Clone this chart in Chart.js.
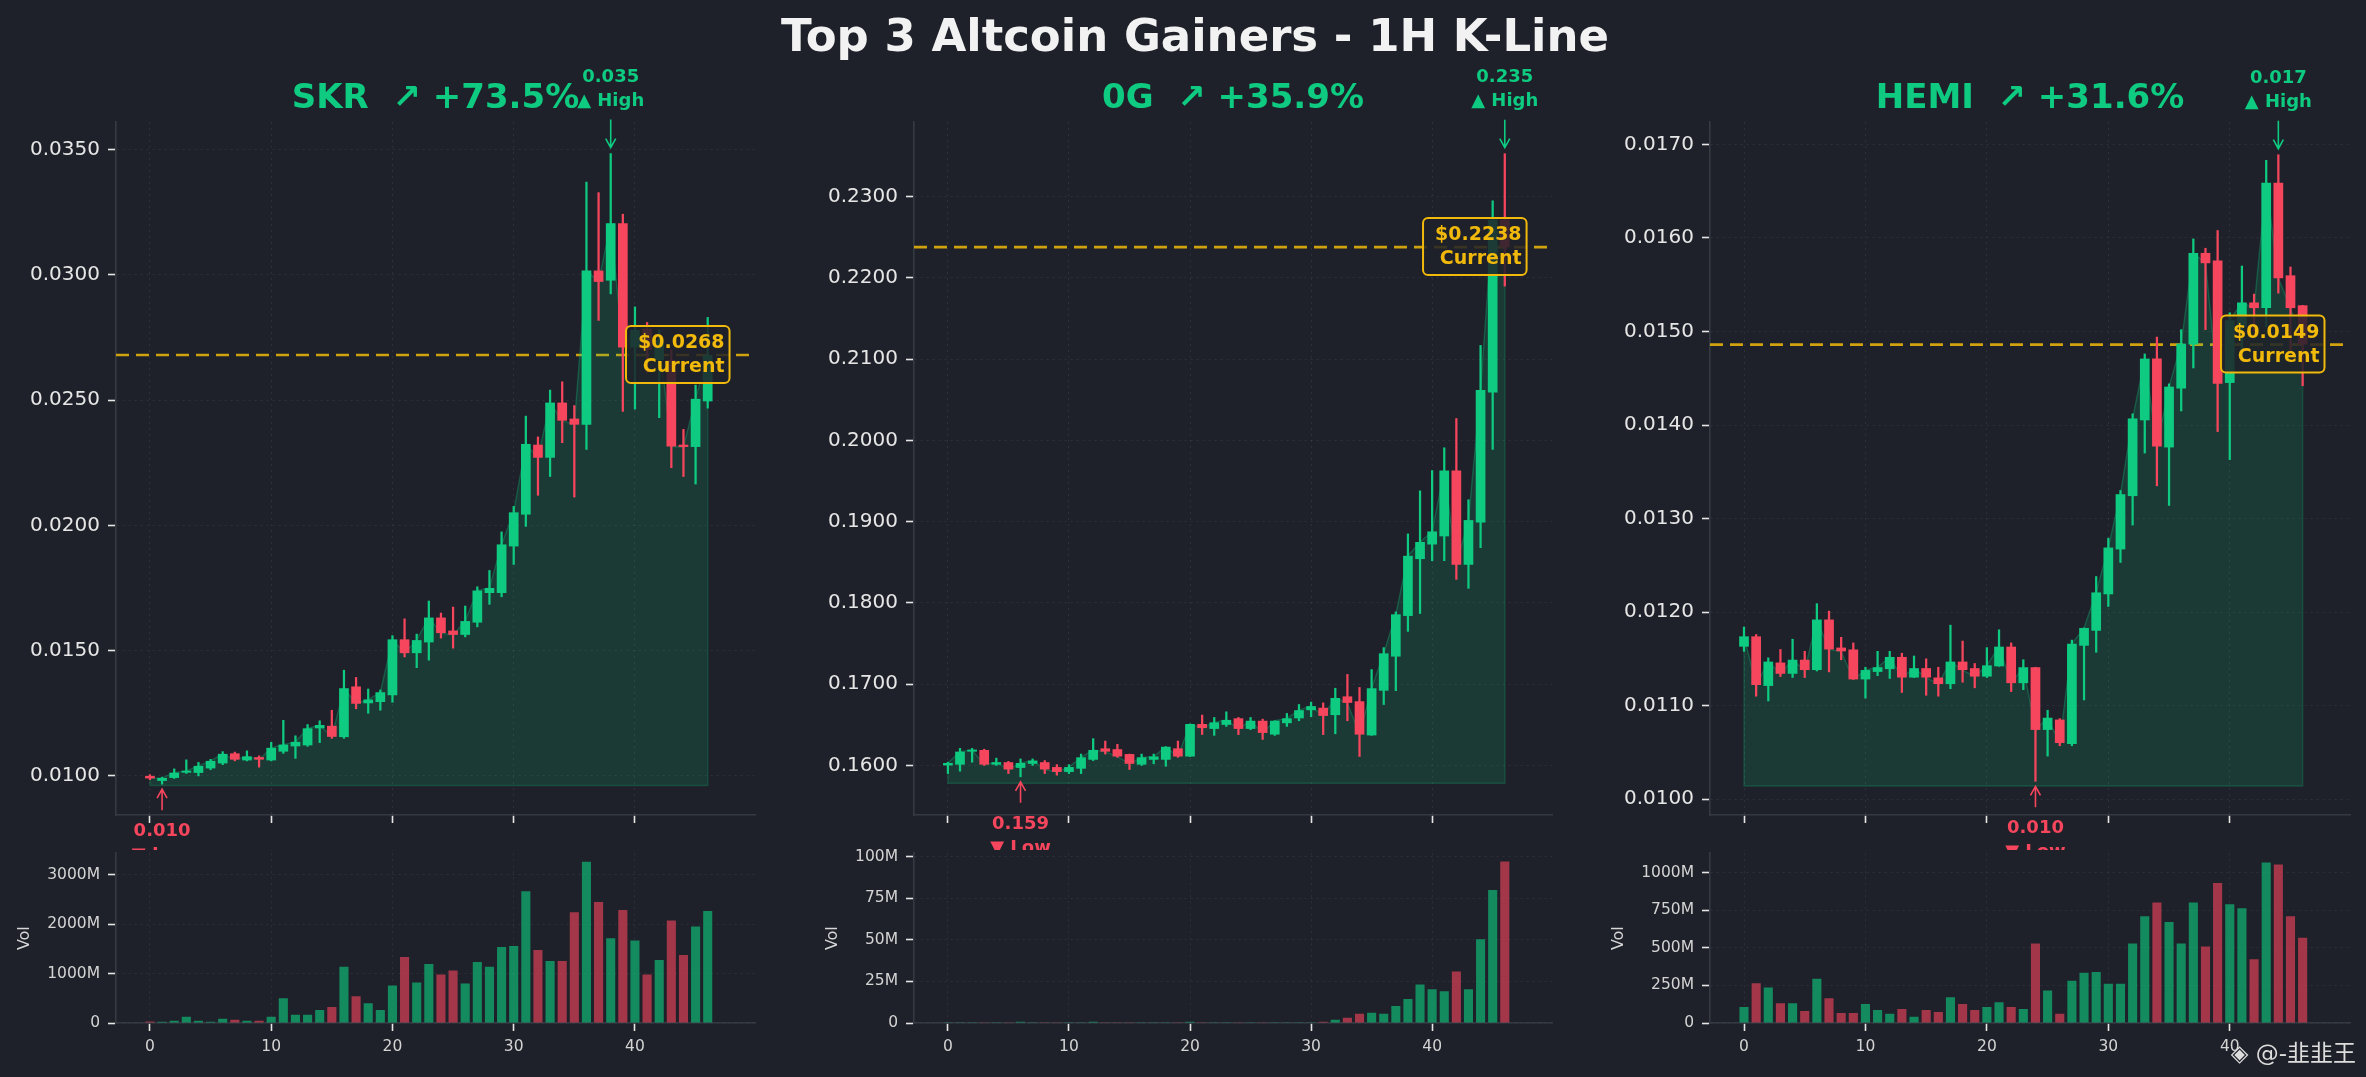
<!DOCTYPE html>
<html>
<head>
<meta charset="utf-8">
<script src="https://cdn.jsdelivr.net/npm/chart.js@4.4.0/dist/chart.umd.min.js"></script>
<style>
html, body { margin: 0; padding: 0; background: #1e2129; width: 2366px; height: 1077px; overflow: hidden; }
canvas { position: absolute; }
#title { position: absolute; left: 0; width: 2390px; top: 12px; text-align: center;
  font: bold 45px "DejaVu Sans"; line-height: 48px; color: #f2f2f2; z-index: 5; }
#mark { position: absolute; right: 10px; top: 1034px; font: 23px "DejaVu Sans", "Noto Sans CJK SC";
  color: #dddddd; z-index: 5; }
</style>
</head>
<body>
<div id="title">Top 3 Altcoin Gainers - 1H K-Line</div>
<div id="mark">◈ @-韭韭王</div>
<script>
// coins and their 24h gain (%)
var names = ['SKR', '0G', 'HEMI'];
var gains = [73.5, 35.9, 31.6];

// SKR 1H candles
var skrOpen = [0.01000,0.00980,0.00992,0.01013,0.01012,0.01030,0.01050,0.01090,0.01062,0.01075,
  0.01062,0.01097,0.01118,0.01122,0.01190,0.01200,0.01155,0.01357,0.01290,0.01295,
  0.01322,0.01545,0.01490,0.01533,0.01632,0.01580,0.01563,0.01612,0.01730,0.01730,
  0.01916,0.02043,0.02322,0.02270,0.02490,0.02426,0.02402,0.03017,0.02977,0.03206,
  0.02710,0.02785,0.02660,0.02660,0.02322,0.02313,0.02495];
var skrHigh = [0.01005,0.00995,0.01028,0.01064,0.01054,0.01066,0.01097,0.01095,0.01100,0.01080,
  0.01134,0.01222,0.01160,0.01205,0.01220,0.01262,0.01422,0.01393,0.01347,0.01343,
  0.01560,0.01627,0.01566,0.01698,0.01650,0.01674,0.01678,0.01755,0.01820,0.01974,
  0.02076,0.02436,0.02353,0.02540,0.02573,0.02478,0.03370,0.03328,0.03484,0.03242,
  0.02872,0.02810,0.02780,0.02700,0.02383,0.02560,0.02830];
var skrLow = [0.00985,0.00967,0.00990,0.01010,0.01000,0.01025,0.01045,0.01060,0.01060,0.01035,
  0.01060,0.01090,0.01070,0.01118,0.01133,0.01150,0.01150,0.01268,0.01250,0.01262,
  0.01294,0.01475,0.01432,0.01462,0.01550,0.01510,0.01555,0.01595,0.01685,0.01715,
  0.01844,0.01996,0.02120,0.02195,0.02330,0.02113,0.02303,0.02818,0.02924,0.02455,
  0.02464,0.02610,0.02430,0.02230,0.02195,0.02165,0.02468];
var skrClose = [0.00990,0.00992,0.01013,0.01020,0.01040,0.01060,0.01088,0.01065,0.01078,0.01065,
  0.01112,0.01125,0.01136,0.01190,0.01203,0.01156,0.01350,0.01288,0.01305,0.01334,
  0.01545,0.01490,0.01542,0.01632,0.01570,0.01563,0.01618,0.01740,0.01750,0.01924,
  0.02052,0.02325,0.02270,0.02490,0.02418,0.02402,0.03017,0.02972,0.03206,0.02710,
  0.02780,0.02700,0.02740,0.02315,0.02313,0.02505,0.02680];
var skrVol = [30,25,45,125,45,25,85,65,45,45,125,500,165,165,265,325,1135,540,400,265,
  760,1335,820,1195,980,1060,800,1235,1135,1535,1555,2665,1475,1255,1255,2240,3260,2445,
  1715,2285,1670,980,1275,2070,1375,1950,2265];

// 0G 1H candles
var ogOpen = [0.1600,0.1601,0.1617,0.1619,0.1601,0.1604,0.1597,0.1602,0.1604,0.1598,
  0.1592,0.1596,0.1607,0.1621,0.1620,0.1614,0.1601,0.1607,0.1607,0.1621,
  0.1611,0.1651,0.1645,0.1650,0.1658,0.1645,0.1655,0.1638,0.1652,0.1658,
  0.1668,0.1671,0.1662,0.1685,0.1679,0.1637,0.1692,0.1734,0.1784,0.1854,
  0.1872,0.1882,0.1963,0.1847,0.1899,0.2059,0.2272];
var ogHigh = [0.1604,0.1621,0.1621,0.1620,0.1609,0.1605,0.1608,0.1608,0.1606,0.1601,
  0.1601,0.1614,0.1633,0.1630,0.1626,0.1614,0.1614,0.1614,0.1623,0.1630,
  0.1651,0.1662,0.1659,0.1666,0.1659,0.1659,0.1657,0.1655,0.1664,0.1675,
  0.1678,0.1677,0.1695,0.1712,0.1696,0.1718,0.1745,0.1789,0.1885,0.1938,
  0.1963,0.1991,0.2027,0.1927,0.2117,0.2295,0.2353];
var ogLow = [0.1590,0.1593,0.1604,0.1600,0.1600,0.1590,0.1586,0.1600,0.1590,0.1588,
  0.1590,0.1590,0.1606,0.1614,0.1610,0.1595,0.1600,0.1602,0.1599,0.1610,
  0.1611,0.1638,0.1637,0.1648,0.1638,0.1644,0.1632,0.1637,0.1648,0.1655,
  0.1660,0.1638,0.1639,0.1655,0.1611,0.1637,0.1675,0.1692,0.1765,0.1787,
  0.1852,0.1852,0.1829,0.1818,0.1868,0.1989,0.2190];
var ogClose = [0.1603,0.1617,0.1619,0.1601,0.1604,0.1595,0.1603,0.1606,0.1595,0.1592,
  0.1598,0.1610,0.1619,0.1617,0.1611,0.1602,0.1610,0.1611,0.1623,0.1611,
  0.1651,0.1646,0.1653,0.1656,0.1645,0.1655,0.1640,0.1655,0.1658,0.1668,
  0.1673,0.1661,0.1683,0.1677,0.1638,0.1695,0.1738,0.1786,0.1858,0.1875,
  0.1888,0.1963,0.1847,0.1902,0.2062,0.2272,0.2238];
var ogVol = [0.1,0.1,0.1,0.1,0.1,0.1,0.7,0.1,0.1,0.1,0.1,0.1,0.7,0.1,0.1,0.1,0.1,0.1,0.1,0.1,
  0.8,0.1,0.1,0.1,0.1,0.1,0.1,0.1,0.1,0.1,0.2,0.8,2.0,3.2,5.5,6.1,5.5,10.2,14.4,23.2,
  20.3,19.1,30.9,20.3,50.4,80.0,97.0];

// HEMI 1H candles
var hemiOpen = [0.01163,0.01174,0.01121,0.01146,0.01134,0.01149,0.01138,0.01192,0.01162,0.01160,
  0.01128,0.01136,0.01139,0.01152,0.01130,0.01140,0.01130,0.01123,0.01147,0.01140,
  0.01131,0.01142,0.01163,0.01124,0.01141,0.01074,0.01085,0.01059,0.01164,0.01180,
  0.01219,0.01267,0.01324,0.01405,0.01471,0.01376,0.01439,0.01486,0.01584,0.01576,
  0.01445,0.01505,0.01531,0.01525,0.01659,0.01560,0.01528];
var hemiHigh = [0.01184,0.01176,0.01151,0.01160,0.01171,0.01158,0.01209,0.01201,0.01173,0.01167,
  0.01141,0.01158,0.01158,0.01156,0.01153,0.01150,0.01141,0.01186,0.01169,0.01145,
  0.01162,0.01181,0.01167,0.01149,0.01141,0.01095,0.01086,0.01170,0.01183,0.01238,
  0.01279,0.01330,0.01412,0.01476,0.01494,0.01444,0.01502,0.01599,0.01589,0.01608,
  0.01520,0.01570,0.01540,0.01683,0.01689,0.01569,0.01528];
var hemiLow = [0.01158,0.01110,0.01105,0.01131,0.01130,0.01130,0.01137,0.01136,0.01149,0.01128,
  0.01108,0.01132,0.01129,0.01114,0.01130,0.01111,0.01110,0.01118,0.01125,0.01119,
  0.01130,0.01142,0.01115,0.01117,0.01019,0.01046,0.01057,0.01057,0.01106,0.01157,
  0.01206,0.01253,0.01293,0.01370,0.01335,0.01314,0.01415,0.01461,0.01502,0.01393,
  0.01363,0.01480,0.01500,0.01505,0.01541,0.01480,0.01442];
var hemiClose = [0.01174,0.01122,0.01147,0.01134,0.01149,0.01138,0.01192,0.01160,0.01158,0.01128,
  0.01138,0.01141,0.01152,0.01130,0.01140,0.01130,0.01123,0.01147,0.01138,0.01131,
  0.01143,0.01163,0.01124,0.01141,0.01074,0.01087,0.01060,0.01166,0.01183,0.01221,
  0.01269,0.01326,0.01407,0.01471,0.01377,0.01441,0.01487,0.01584,0.01573,0.01444,
  0.01512,0.01531,0.01525,0.01659,0.01557,0.01525,0.01486];
var hemiVol = [106,265,236,132,132,80,295,165,67,67,126,87,61,93,41,87,74,171,126,87,
  106,139,106,93,529,217,61,282,334,340,262,262,529,711,803,672,529,803,510,933,
  790,764,425,1069,1056,711,568];

// axis ranges
var priceMin = [0.00844, 0.1539, 0.00983];
var priceMax = [0.0361, 0.2392, 0.01724];
var priceStep = [0.005, 0.01, 0.001];
var volMax = [3430, 102, 1130];
var volStep = [1000, 25, 250];
var xMin = -2.8, xMax = 49.9, xStep = 10;

var UP = '#0ecb81', DOWN = '#f6465d', GOLD = '#f0b90b';
var SPINE = '#353a42', GRID = 'rgba(255,255,255,0.07)';

Chart.defaults.font.family = '"DejaVu Sans"';

// where each panel sits on the page
var panels = [
  {left: 0, width: 800, axisW: 116, padR: 45},
  {left: 800, width: 800, axisW: 114, padR: 48},
  {left: 1600, width: 766, axisW: 110, padR: 16}
];

var series = [
  {o: skrOpen, h: skrHigh, l: skrLow, c: skrClose, v: skrVol},
  {o: ogOpen, h: ogHigh, l: ogLow, c: ogClose, v: ogVol},
  {o: hemiOpen, h: hemiHigh, l: hemiLow, c: hemiClose, v: hemiVol}
];

function makeCanvas(left, top, w, h) {
  var cv = document.createElement('canvas');
  cv.width = w; cv.height = h;
  cv.style.left = left + 'px'; cv.style.top = top + 'px';
  cv.style.width = w + 'px'; cv.style.height = h + 'px';
  document.body.appendChild(cv);
  return cv;
}

function arrow(ctx, x, y0, y1, color) {
  var d = y1 > y0 ? 1 : -1;
  ctx.save();
  ctx.strokeStyle = color;
  ctx.lineWidth = 1.6;
  ctx.beginPath();
  ctx.moveTo(x, y0); ctx.lineTo(x, y1);
  ctx.moveTo(x - 5, y1 - d * 9); ctx.lineTo(x, y1); ctx.lineTo(x + 5, y1 - d * 9);
  ctx.stroke();
  ctx.restore();
}

// current price line, titles, high/low marks, current box
var notes = {
  id: 'notes',
  beforeDatasetsDraw: function(chart, args, o) {
    var ctx = chart.ctx, a = chart.chartArea;
    var py = chart.scales.y.getPixelForValue(o.current);
    ctx.save();
    ctx.strokeStyle = 'rgba(240,185,11,0.85)';
    ctx.lineWidth = 2.6;
    ctx.setLineDash([13, 7]);
    ctx.beginPath(); ctx.moveTo(a.left, py); ctx.lineTo(a.right, py); ctx.stroke();
    ctx.restore();
  },
  afterDraw: function(chart, args, o) {
    var ctx = chart.ctx, a = chart.chartArea, x = chart.scales.x, y = chart.scales.y;
    ctx.save();
    ctx.textAlign = 'center';
    ctx.textBaseline = 'alphabetic';
    ctx.fillStyle = UP;
    ctx.font = 'bold 34px "DejaVu Sans"';
    ctx.fillText(o.title, (a.left + a.right) / 2, a.top - 14);

    var hx = x.getPixelForValue(o.hiIdx), hy = y.getPixelForValue(o.hi);
    ctx.font = 'bold 18px "DejaVu Sans"';
    ctx.fillText(o.hi.toFixed(3), hx, hy - 72);
    ctx.fillText('▲ High', hx, hy - 48);
    arrow(ctx, hx, hy - 34, hy - 6, UP);

    var lx = x.getPixelForValue(o.loIdx), ly = y.getPixelForValue(o.lo);
    ctx.fillStyle = DOWN;
    ctx.fillText(o.lo.toFixed(3), lx, ly + 52);
    ctx.fillText('▼ Low', lx, ly + 76);
    arrow(ctx, lx, ly + 26, ly + 5, DOWN);

    var cy = y.getPixelForValue(o.current);
    var l1 = '$' + o.current.toFixed(4), l2 = 'Current';
    ctx.font = 'bold 19px "DejaVu Sans"';
    var w = Math.max(ctx.measureText(l1).width, ctx.measureText(l2).width);
    var right = x.getPixelForValue(o.n + 0.8);
    var tr = right - 5, left = tr - w - 12;
    ctx.beginPath();
    ctx.roundRect(left, cy - 29, right - left, 57, 5);
    ctx.fillStyle = 'rgba(30,33,41,0.85)';
    ctx.fill();
    ctx.lineWidth = 2;
    ctx.strokeStyle = GOLD;
    ctx.stroke();
    ctx.fillStyle = GOLD;
    ctx.textAlign = 'right';
    ctx.fillText(l1, tr, cy - 7);
    ctx.fillText(l2, tr, cy + 17);
    ctx.restore();
  }
};

var volLabel = {
  id: 'volLabel',
  afterDraw: function(chart) {
    var ctx = chart.ctx, a = chart.chartArea, y = chart.scales.y;
    ctx.save();
    ctx.font = '15.5px "DejaVu Sans"';
    var w = Math.max.apply(null, y.ticks.map(function(t) { return ctx.measureText(String(t.label)).width; }));
    ctx.font = '16px "DejaVu Sans"';
    ctx.fillStyle = '#d6d6d6';
    ctx.translate(a.left - 16 - w - 22, (a.top + a.bottom) / 2);
    ctx.rotate(-Math.PI / 2);
    ctx.textAlign = 'center';
    ctx.textBaseline = 'middle';
    ctx.fillText('Vol', 0, 0);
    ctx.restore();
  }
};

function axisX(showLabels, h) {
  return {
    type: 'linear', min: xMin, max: xMax, offset: false,
    grid: {offset: false, color: GRID, lineWidth: 1, tickLength: 8, tickColor: '#e6e6e6', tickWidth: 1.6},
    border: {color: SPINE, width: 1.6, dash: [2, 4]},
    ticks: {display: showLabels, stepSize: xStep, includeBounds: false, color: '#d4d4d4',
      font: {size: 15.5}, padding: 7, maxRotation: 0},
    afterFit: function(s) { s.height = h; }
  };
}

function drawPanel(k) {
  var p = panels[k], s = series[k];
  var n = s.c.length;
  var idx = s.c.map(function(_, i) { return i; });
  var up = idx.map(function(i) { return s.c[i] >= s.o[i]; });
  var col = up.map(function(u) { return u ? UP : DOWN; });
  var volCol = up.map(function(u) { return u ? 'rgba(14,203,129,0.62)' : 'rgba(246,70,93,0.62)'; });
  var hi = Math.max.apply(null, s.h), lo = Math.min.apply(null, s.l);
  var base = lo * 0.995;

  new Chart(makeCanvas(p.left, 0, p.width, 850), {
    type: 'bar',
    data: {
      datasets: [
        {type: 'line', data: idx.map(function(i) { return {x: i, y: s.c[i]}; }),
          borderColor: 'rgba(14,203,129,0.3)', borderWidth: 1.4, pointRadius: 0, tension: 0,
          fill: {value: base}, backgroundColor: 'rgba(14,203,129,0.15)', order: 4},
        {type: 'line', data: [{x: 0, y: s.c[0]}, {x: 0, y: base}, {x: n - 1, y: base}, {x: n - 1, y: s.c[n - 1]}],
          borderColor: 'rgba(14,203,129,0.22)', borderWidth: 1.5, pointRadius: 0, fill: false, order: 3},
        {data: idx.map(function(i) { return {x: i, y: [s.l[i], s.h[i]]}; }),
          backgroundColor: col, barThickness: 1.6, grouped: false, order: 2},
        {data: idx.map(function(i) { return {x: i, y: [s.o[i], s.c[i]]}; }),
          backgroundColor: col, barPercentage: 0.8, categoryPercentage: 1, grouped: false,
          minBarLength: 2, order: 1}
      ]
    },
    options: {
      responsive: false, animation: false,
      layout: {padding: {top: 122, right: p.padR, left: 0, bottom: 0}},
      plugins: {
        legend: {display: false}, tooltip: {enabled: false},
        notes: {title: names[k] + '  ↗ +' + gains[k].toFixed(1) + '%', current: s.c[n - 1], n: n,
          hi: hi, hiIdx: s.h.indexOf(hi), lo: lo, loIdx: s.l.indexOf(lo)}
      },
      scales: {
        x: axisX(false, 35),
        y: {
          min: priceMin[k], max: priceMax[k],
          grid: {color: GRID, lineWidth: 1, tickLength: 8, tickColor: '#e6e6e6', tickWidth: 1.6},
          border: {color: SPINE, width: 1.6, dash: [2, 4]},
          ticks: {stepSize: priceStep[k], includeBounds: false, color: '#e6e6e6', font: {size: 20}, padding: 8,
            callback: function(v) { return v.toFixed(4); }},
          afterFit: function(sc) { sc.width = p.axisW; }
        }
      }
    },
    plugins: [notes]
  });

  new Chart(makeCanvas(p.left, 836, p.width, 241), {
    type: 'bar',
    data: {
      datasets: [{data: idx.map(function(i) { return {x: i, y: s.v[i]}; }),
        backgroundColor: volCol, barPercentage: 0.75, categoryPercentage: 1}]
    },
    options: {
      responsive: false, animation: false,
      layout: {padding: {top: 14, right: p.padR, left: 0, bottom: 0}},
      plugins: {legend: {display: false}, tooltip: {enabled: false}},
      scales: {
        x: axisX(true, 54),
        y: {
          min: 0, max: volMax[k],
          grid: {color: GRID, lineWidth: 1, tickLength: 8, tickColor: '#e6e6e6', tickWidth: 1.6},
          border: {color: SPINE, width: 1.6, dash: [2, 4]},
          ticks: {color: '#d4d4d4', font: {size: 15.5}, padding: 8,
            callback: function(v) { return v === 0 ? '0' : v + 'M'; }},
          afterBuildTicks: function(sc) {
            var t = [];
            for (var v = 0; v <= volMax[k]; v += volStep[k]) t.push({value: v});
            sc.ticks = t;
          },
          afterFit: function(sc) { sc.width = p.axisW; }
        }
      }
    },
    plugins: [volLabel]
  });
}

for (var k = 0; k < 3; k++) drawPanel(k);
</script>
</body>
</html>
